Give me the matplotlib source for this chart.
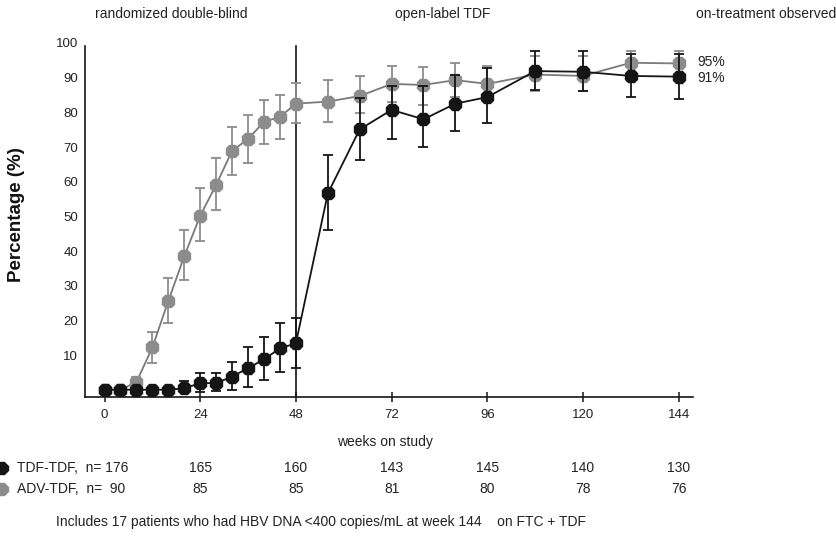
import numpy as np
import matplotlib
matplotlib.use("Agg")
import matplotlib.pyplot as plt
from matplotlib.lines import Line2D
from matplotlib.transforms import blended_transform_factory

plt.rcParams['font.family'] = ['Liberation Sans', 'DejaVu Sans']

# ---------------- data ----------------
weeks = [0, 4, 8, 12, 16, 20, 24, 28, 32, 36, 40, 44, 48, 56, 64, 72, 80, 88, 96, 108, 120, 132, 144]

tdf_vals = [0, 0, 0, 0, 0, 0.4, 1.9, 1.9, 3.8, 6.2, 8.8, 11.9, 13.4, 56.6, 75.1, 80.7, 78.0, 82.5, 84.4, 91.9, 91.7, 90.5, 90.3]
tdf_hi = [None, None, None, None, None, 2.6, 4.7, 4.7, 8.1, 12.2, 15.1, 19.3, 20.8, 67.8, 84.2, 87.6, 87.6, 90.7, 92.7, 97.6, 97.6, 96.9, 96.9]
tdf_lo = [None, None, None, None, None, -0.6, -0.8, -0.5, -0.1, 0.9, 2.8, 5.0, 6.2, 46.1, 66.3, 72.3, 69.9, 74.7, 76.8, 86.4, 86.1, 84.4, 83.8]

adv_vals = [0, 0, 2.2, 12.2, 25.6, 38.5, 50.2, 59.1, 68.9, 72.3, 77.3, 78.7, 82.5, 83.1, 84.7, 88.2, 87.9, 89.3, 88.2, 90.9, 90.5, 94.3, 94.1]
adv_hi = [None, None, 3.8, 16.7, 32.1, 46.1, 58.2, 66.7, 75.8, 79.3, 83.6, 84.9, 88.4, 89.2, 90.5, 93.5, 93.0, 94.3, 93.5, 96.2, 96.2, 97.6, 97.6]
adv_lo = [None, None, 0.5, 7.6, 19.1, 31.6, 42.8, 51.7, 62.0, 65.4, 71.0, 72.3, 76.9, 77.2, 79.9, 83.1, 82.1, 84.4, 83.3, 86.1, 86.1, 89.0, 89.0]

xticks = [0, 24, 48, 72, 96, 120, 144]
yticks = [10, 20, 30, 40, 50, 60, 70, 80, 90, 100]

n_weeks = [24, 48, 72, 96, 120, 144]
tdf_n_first = "176"
tdf_n = ["165", "160", "143", "145", "140", "130"]
adv_n_first = "90"
adv_n = ["85", "85", "81", "80", "78", "76"]

phase_labels = ["randomized double-blind", "open-label TDF", "on-treatment observed"]
end_labels = ["95%", "91%"]

# ---------------- figure ----------------
W, H = 837, 536
fig = plt.figure(figsize=(W / 100, H / 100), dpi=100)
ax_l, ax_r, ax_t, ax_b = 85, 693, 43, 397
ax = fig.add_axes([ax_l / W, 1 - ax_b / H, (ax_r - ax_l) / W, (ax_b - ax_t) / H])
ax.set_xlim(-4.9, 147.6)
ax.set_ylim(-2.1, 99.9)

BLACK = '#151515'
GRAY = '#8c8c8c'
GRAY_LINE = '#7a7a7a'


def errs(vals, lo, hi):
    x, y, el, eh = [], [], [], []
    for w, v, l, h in zip(weeks, vals, lo, hi):
        if l is None:
            continue
        x.append(w); y.append(v); el.append(v - l); eh.append(h - v)
    return np.array(x), np.array(y), np.array([el, eh])


# ADV-TDF (gray)
xe, ye, ee = errs(adv_vals, adv_lo, adv_hi)
ax.errorbar(xe, ye, yerr=ee, fmt='none', ecolor=GRAY, elinewidth=1.3, capsize=3.5, capthick=1.3, zorder=2)
ax.plot(weeks, adv_vals, color=GRAY_LINE, lw=1.3, marker='8', markersize=9.5,
        markerfacecolor=GRAY, markeredgecolor=GRAY, zorder=3, clip_on=False)

# TDF-TDF (black)
xe, ye, ee = errs(tdf_vals, tdf_lo, tdf_hi)
ax.errorbar(xe, ye, yerr=ee, fmt='none', ecolor=BLACK, elinewidth=1.3, capsize=3.5, capthick=1.3, zorder=4)
ax.plot(weeks, tdf_vals, color=BLACK, lw=1.3, marker='8', markersize=9.5,
        markerfacecolor=BLACK, markeredgecolor=BLACK, zorder=5, clip_on=False)

# vertical divider at week 48
ax.plot([48, 48], [-2.1, 99], color=BLACK, lw=1.2, zorder=1)

# spines
for s in ['top', 'right']:
    ax.spines[s].set_visible(False)
ax.spines['left'].set_bounds(-2.1, 99)
ax.spines['left'].set_linewidth(1.2)
ax.spines['bottom'].set_linewidth(1.2)
ax.spines['left'].set_color(BLACK)
ax.spines['bottom'].set_color(BLACK)

ax.set_xticks(xticks)
ax.set_xticklabels([str(t) for t in xticks], fontsize=9.5, color='#222222')
ax.tick_params(axis='x', direction='inout', length=7, width=1.1, color=BLACK, pad=5)
ax.set_yticks(yticks)
ax.set_yticklabels([str(t) for t in yticks], fontsize=9.5, color='#222222')
ax.tick_params(axis='y', length=0, pad=5)

ax.set_ylabel("Percentage (%)", fontsize=13.5, fontweight='bold', color='#111111')
ax.yaxis.set_label_coords(-(ax_l - 25) / (ax_r - ax_l), (ax_b - 215) / (ax_b - ax_t))

# phase labels
fig.text(171 / W, 1 - 14 / H, phase_labels[0], fontsize=10, ha='center', va='center', color='#222222')
fig.text(443 / W, 1 - 14 / H, phase_labels[1], fontsize=10, ha='center', va='center', color='#222222')
fig.text(696 / W, 1 - 14 / H, phase_labels[2], fontsize=10, ha='left', va='center', color='#222222')

# end labels
fig.text(697 / W, 1 - 62 / H, end_labels[0], fontsize=10, ha='left', va='center', color='#222222')
fig.text(697 / W, 1 - 78 / H, end_labels[1], fontsize=10, ha='left', va='center', color='#222222')

# x-axis title
fig.text(385 / W, 1 - 442 / H, "weeks on study", fontsize=10, ha='center', va='center', color='#222222')

# n at risk table
trans = blended_transform_factory(ax.transData, fig.transFigure)
y1 = 1 - 468 / H
y2 = 1 - 489 / H
fig.add_artist(Line2D([2 / W], [y1], marker='8', markersize=9, color=BLACK, transform=fig.transFigure))
fig.add_artist(Line2D([2 / W], [y2], marker='8', markersize=9, color=GRAY, transform=fig.transFigure))
fig.text(17 / W, y1, "TDF-TDF,  n= " + tdf_n_first, fontsize=10, ha='left', va='center', color='#222222')
fig.text(17 / W, y2, "ADV-TDF,  n=  " + adv_n_first, fontsize=10, ha='left', va='center', color='#222222')
for w, a, b in zip(n_weeks, tdf_n, adv_n):
    ax.text(w, y1, a, transform=trans, fontsize=10, ha='center', va='center', color='#222222')
    ax.text(w, y2, b, transform=trans, fontsize=10, ha='center', va='center', color='#222222')

fig.text(56 / W, 1 - 522 / H,
         "Includes 17 patients who had HBV DNA <400 copies/mL at week 144    on FTC + TDF",
         fontsize=10, ha='left', va='center', color='#222222')

fig.savefig("out.png", dpi=100)
